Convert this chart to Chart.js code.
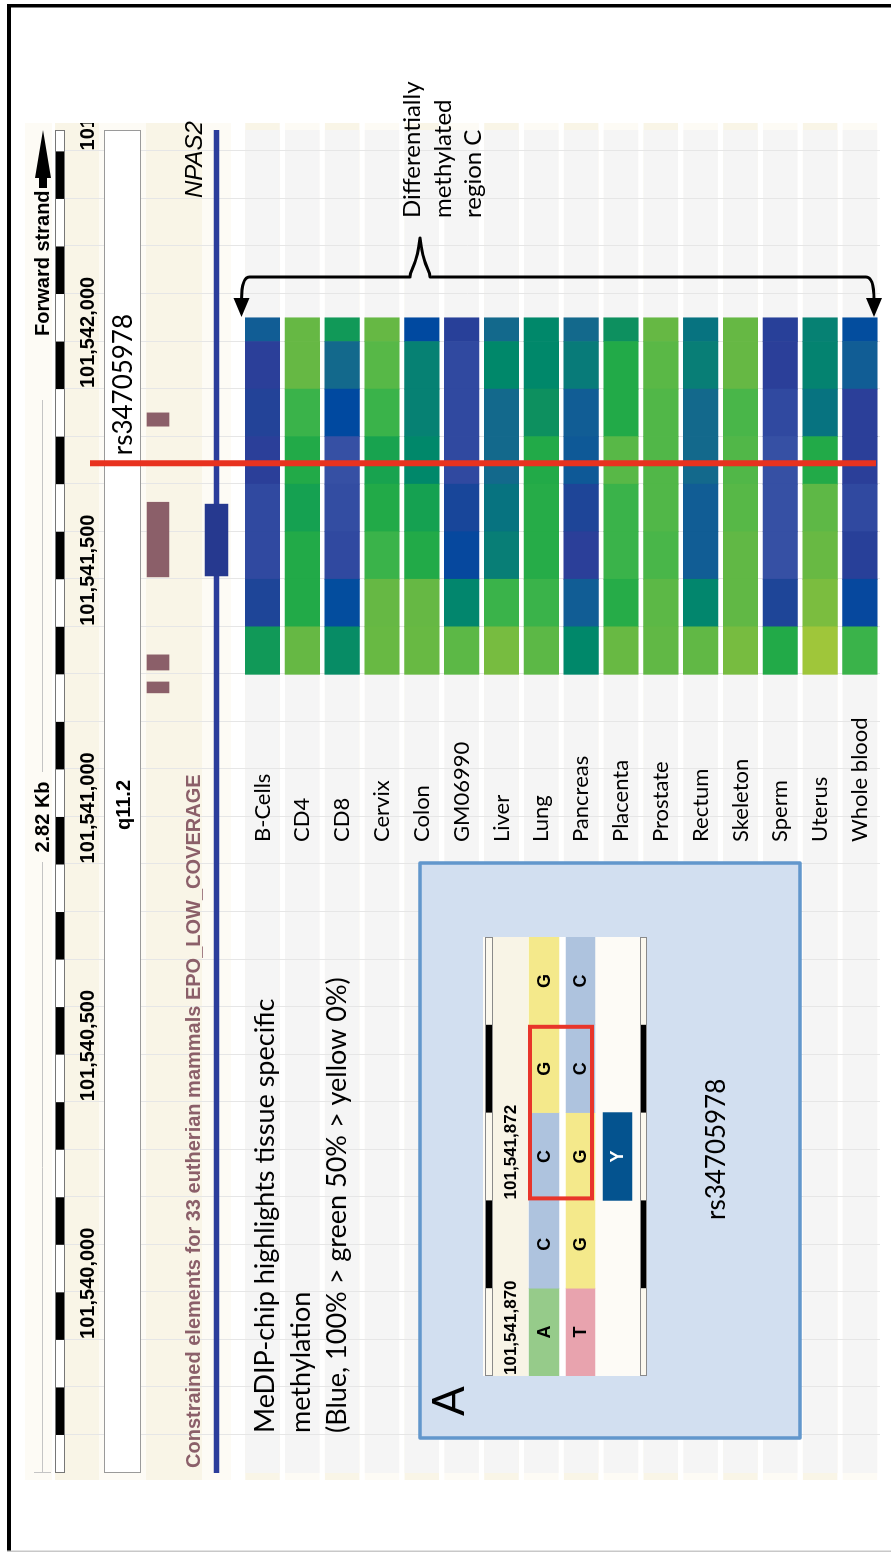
<!DOCTYPE html>
<html>
<head>
<meta charset="utf-8">
<script src="https://cdn.jsdelivr.net/npm/chart.js@4.4.1/dist/chart.umd.min.js"></script>
<style>
  html, body { margin: 0; padding: 0; background: #fff; width: 891px; height: 1552px; overflow: hidden; }
  /* the figure is laid out in landscape and turned a quarter turn counter-clockwise */
  #figure { position: absolute; left: 0; top: 0; width: 1552px; height: 891px;
            transform-origin: 0 0; transform: translateY(1552px) rotate(-90deg); }
  #main  { position: absolute; left: 0; top: 0; }
  #inset { position: absolute; left: 176px; top: 483px; }
</style>
</head>
<body>
<div id="figure">
  <canvas id="main" width="1552" height="891"></canvas>
  <canvas id="inset" width="439" height="164"></canvas>
</div>
<script>
// ---------------- data ----------------
const tissues = ['B-Cells', 'CD4', 'CD8', 'Cervix', 'Colon', 'GM06990', 'Liver', 'Lung',
                 'Pancreas', 'Placenta', 'Prostate', 'Rectum', 'Skeleton', 'Sperm', 'Uterus', 'Whole blood'];

// MeDIP-chip windows on chr2 (bp)
const windowStarts = [101541400, 101541500, 101541600, 101541700, 101541800, 101541900, 101542000, 101542100];
const windowEnds   = [101541500, 101541600, 101541700, 101541800, 101541900, 101542000, 101542100, 101542150];

// methylation level (%) per window, one array per tissue
const methBCells     = [58, 90, 98, 98, 95, 92, 95, 80];
const methCD4        = [28, 52, 52, 56, 52, 46, 28, 28];
const methCD8        = [62, 84, 98, 99, 100, 85, 76, 58];
const methCervix     = [27, 28, 46, 52, 55, 46, 37, 28];
const methColon      = [27, 28, 52, 56, 64, 67, 67, 85];
const methGM06990    = [34, 65, 86, 89, 98, 98, 98, 94];
const methLiver      = [21, 46, 68, 72, 76, 76, 64, 76];
const methLung       = [34, 46, 51, 51, 52, 60, 64, 64];
const methPancreas   = [64, 80, 95, 90, 81, 80, 69, 76];
const methPlacenta   = [27, 51, 46, 46, 36, 52, 52, 60];
const methProstate   = [31, 34, 42, 40, 40, 40, 35, 28];
const methRectum     = [31, 65, 80, 80, 76, 76, 68, 72];
const methSkeleton   = [21, 31, 31, 37, 40, 42, 28, 28];
const methSperm      = [52, 90, 100, 100, 100, 98, 95, 94];
const methUterus     = [11, 20, 27, 33, 52, 72, 66, 67];
const methWholeBlood = [46, 86, 94, 98, 95, 95, 80, 84];
const methylation = [methBCells, methCD4, methCD8, methCervix, methColon, methGM06990, methLiver, methLung,
                     methPancreas, methPlacenta, methProstate, methRectum, methSkeleton, methSperm, methUterus, methWholeBlood];

// constrained elements (33 eutherian mammals)
const constrainedStarts = [101541361, 101541409, 101541605, 101541922];
const constrainedEnds   = [101541384, 101541441, 101541762, 101541950];

// NPAS2: visible stretch of the gene and the exon in view
const npas2Visible = [101539720, 101542545];
const npas2ExonStart = 101541607, npas2ExonEnd = 101541758;

// ruler
const rulerTickValues = [101540000, 101540500, 101541000, 101541500, 101542000, 101542500];
const rulerTickLabels = ['101,540,000', '101,540,500', '101,541,000', '101,541,500', '101,542,000', '101,542,500'];
const viewStart = 101539720, viewEnd = 101542545;
const markerPos = 101541844;     // rs34705978 marker line

// detail view around the SNP
const insetPositions = [101541870, 101541871, 101541872, 101541873, 101541874];
const forwardBases = ['A', 'C', 'C', 'G', 'G'];
const reverseBases = ['T', 'G', 'G', 'C', 'C'];
const insetLabelValues = [101541870, 101541872];
const insetLabels = ['101,541,870', '101,541,872'];
const variantPos = 101541872, variantCode = 'Y';
const cpgStart = 101541872, cpgEnd = 101541873;

// ---------------- styling / layout ----------------
const W = 1552, H = 891;
const ROW0_Y = 262.5, ROW_PITCH = 39.83, ROW_THICK = 34.5;
const PLOT_LEFT = 79, PLOT_RIGHT = 1422;
const PALE = '#fdfbf5', CREAM = '#f9f5e7', GRAY = '#f5f5f5';
const LANE_CONSTRAINED = 158, LANE_GENE = 216.5;
const ENS_BOLD = 'bold 20px "Liberation Sans", Arial, sans-serif';
const lato = s => `${s}px Lato, "Open Sans", sans-serif`;

const methylationStops = [
  [0, '#f1e42b'], [11, '#9fc63a'], [21, '#77bc40'], [28, '#66b844'], [34, '#5cb846'], [40, '#51b748'],
  [46, '#3ab34a'], [52, '#22aa48'], [56, '#15a151'], [60, '#0d905f'], [64, '#00886a'], [68, '#087e76'],
  [72, '#077380'], [76, '#13698c'], [80, '#115d95'], [85, '#0049a0'], [90, '#1e4598'], [95, '#2b3f99'],
  [98, '#3049a0'], [100, '#3650a4']
];
function hexRgb(h) { return [1, 3, 5].map(k => parseInt(h.slice(k, k + 2), 16)); }
function methylationColor(v) {
  for (let k = 1; k < methylationStops.length; k++) {
    const [v1, c1] = methylationStops[k];
    if (v <= v1) {
      const [v0, c0] = methylationStops[k - 1];
      const t = (v - v0) / (v1 - v0), a = hexRgb(c0), b = hexRgb(c1);
      return `rgb(${a.map((q, j) => Math.round(q + (b[j] - q) * t)).join(',')})`;
    }
  }
  return methylationStops[methylationStops.length - 1][1];
}
const BASE_COLORS = { A: '#96cb8a', C: '#aec3de', G: '#f4e98b', T: '#e8a3ae' };

function text(ctx, s, x, y, font, color, align) {
  ctx.save();
  ctx.font = font; ctx.fillStyle = color || '#000';
  ctx.textAlign = align || 'left'; ctx.textBaseline = 'middle';
  ctx.fillText(s, x, y);
  ctx.restore();
}

// ---------------- main view ----------------
const trackBands = [[25, 52, PALE], [55, 99, CREAM], [99, 146, PALE], [146, 202, CREAM], [202, 231, PALE]];

const tracksPlugin = {
  id: 'tracks',
  beforeDraw(chart) {
    const { ctx, scales: { x, y } } = chart;
    ctx.save();
    ctx.fillStyle = '#fff'; ctx.fillRect(0, 0, W, H);
    const bx0 = x.left - 7, bx1 = x.right + 7;
    trackBands.forEach(([a, b, c]) => { ctx.fillStyle = c; ctx.fillRect(bx0, a, bx1 - bx0, b - a); });
    tissues.forEach((t, i) => {
      const yc = y.getPixelForValue(i);
      ctx.fillStyle = i % 2 === 0 ? CREAM : PALE;
      ctx.fillRect(bx0, yc - ROW_THICK / 2, bx1 - bx0, ROW_THICK);
      ctx.fillStyle = GRAY;
      ctx.fillRect(x.left, yc - ROW_THICK / 2, x.right - x.left, ROW_THICK);
    });
    // 100 bp guide lines
    ctx.strokeStyle = '#e6e6e6'; ctx.lineWidth = 1;
    for (let v = Math.ceil(x.min / 100) * 100; v <= x.max; v += 100) {
      const px = Math.round(x.getPixelForValue(v)) + 0.5;
      ctx.beginPath(); ctx.moveTo(px, 55); ctx.lineTo(px, 880); ctx.stroke();
    }
    // chromosome band box
    ctx.fillStyle = '#fff'; ctx.fillRect(x.left, 104, x.right - x.left, 37);
    ctx.strokeStyle = '#9a9a9a'; ctx.strokeRect(x.left + 0.5, 104.5, x.right - x.left - 1, 36);
    // ruler strip: alternating 100 bp blocks
    ctx.fillStyle = '#fff'; ctx.fillRect(x.left, 55.5, x.right - x.left, 9);
    ctx.fillStyle = '#000';
    for (let v = Math.floor(x.min / 100) * 100; v < x.max; v += 100) {
      if ((v / 100) % 2 !== 0) continue;
      const p0 = x.getPixelForValue(Math.max(v, x.min)), p1 = x.getPixelForValue(Math.min(v + 100, x.max));
      ctx.fillRect(p0, 55.5, p1 - p0, 9);
    }
    ctx.strokeStyle = '#777'; ctx.strokeRect(x.left + 0.5, 55.5, x.right - x.left - 1, 9);
    ctx.restore();
  },
  afterDraw(chart) {
    const { ctx, scales: { x, y } } = chart;
    ctx.save();
    // ruler labels
    ctx.save();
    ctx.beginPath(); ctx.rect(0, 0, x.right + 7, H); ctx.clip();
    rulerTickValues.forEach((v, k) => text(ctx, rulerTickLabels[k], x.getPixelForValue(v) + 1, 88, ENS_BOLD, '#000'));
    ctx.restore();

    // strand label and arrow
    text(ctx, 'Forward strand', 1216, 43, ENS_BOLD, '#000');
    ctx.fillStyle = '#000';
    ctx.fillRect(1364, 39, 11, 8);
    ctx.beginPath(); ctx.moveTo(1374, 35); ctx.lineTo(1422, 43); ctx.lineTo(1374, 51); ctx.closePath(); ctx.fill();

    // scale bar
    ctx.strokeStyle = '#c4c4c4'; ctx.lineWidth = 1;
    ctx.beginPath();
    ctx.moveTo(x.left, 42.5); ctx.lineTo(690, 42.5);
    ctx.moveTo(780, 42.5); ctx.lineTo(1152, 42.5);
    ctx.moveTo(x.left + 0.5, 34); ctx.lineTo(x.left + 0.5, 51);
    ctx.stroke();
    text(ctx, '2.82 Kb', 735, 43, ENS_BOLD, '#000', 'center');

    // track labels
    text(ctx, 'q11.2', 747, 124, ENS_BOLD, '#000', 'center');
    text(ctx, 'Constrained elements for 33 eutherian mammals EPO_LOW_COVERAGE', x.left + 5, 194, ENS_BOLD, '#8b5f69');
    text(ctx, 'NPAS2', 1354, 195, 'italic 24px "Liberation Sans", Arial, sans-serif', '#000');

    // SNP marker
    const mx = x.getPixelForValue(markerPos);
    ctx.fillStyle = '#e8321f';
    ctx.fillRect(mx - 3, 90, 6, 786);
    text(ctx, 'rs34705978', mx + 8, 124, lato(26), '#000');

    // tissue names
    tissues.forEach((t, i) => text(ctx, t, 710, y.getPixelForValue(i), lato(22), '#000'));

    // legend text
    text(ctx, 'MeDIP-chip highlights tissue specific', 119, 265, lato(27), '#000');
    text(ctx, 'methylation', 119, 301, lato(27), '#000');
    text(ctx, '(Blue, 100% > green 50% > yellow 0%)', 119, 337, lato(27), '#000');

    // brace over the methylated region
    const yTop = y.getPixelForValue(0) - 21, yBot = y.getPixelForValue(tissues.length - 1) + 14;
    const bx = 1275, spikeX = 1314, spikeY = 420, tip = 1235;
    ctx.strokeStyle = '#000'; ctx.lineWidth = 3; ctx.lineJoin = 'round';
    ctx.beginPath();
    ctx.moveTo(1252, yTop);
    ctx.quadraticCurveTo(bx, yTop, bx, yTop + 8);
    ctx.lineTo(bx, spikeY - 10);
    ctx.bezierCurveTo(bx + 8, spikeY - 10, bx + 10, spikeY - 3, spikeX, spikeY);
    ctx.bezierCurveTo(bx + 10, spikeY + 3, bx + 8, spikeY + 10, bx, spikeY + 10);
    ctx.lineTo(bx, yBot - 8);
    ctx.quadraticCurveTo(bx, yBot, 1252, yBot);
    ctx.stroke();
    ctx.fillStyle = '#000';
    [yTop, yBot].forEach(yy => {
      ctx.beginPath(); ctx.moveTo(1254, yy - 8); ctx.lineTo(tip, yy); ctx.lineTo(1254, yy + 8); ctx.closePath(); ctx.fill();
    });
    text(ctx, 'Differentially', 1334, 412, lato(24), '#000');
    text(ctx, 'methylated', 1334, 443, lato(24), '#000');
    text(ctx, 'region C', 1334, 473, lato(24), '#000');

    // panel A frame
    ctx.fillStyle = '#d2dff0'; ctx.fillRect(114, 420, 575, 380);
    ctx.strokeStyle = '#6297cc'; ctx.lineWidth = 3.5; ctx.strokeRect(114, 420, 575, 380);
    text(ctx, 'A', 136, 450, lato(44), '#000');
    text(ctx, 'rs34705978', 332, 717, lato(26), '#000');

    // outer frame
    ctx.fillStyle = '#000';
    ctx.fillRect(0, 7, 1548, 4);
    ctx.fillRect(1544.5, 7, 3.5, H - 7);
    ctx.fillStyle = '#c8c8c8';
    ctx.fillRect(0, 7, 1.5, H - 7);
    ctx.restore();
  }
};

function buildMain() {
  const heatDatasets = windowStarts.map((s, w) => ({
    label: `${s}-${windowEnds[w]}`,
    data: tissues.map((t, i) => ({ x: [s, windowEnds[w]], y: i })),
    backgroundColor: tissues.map((t, i) => methylationColor(methylation[i][w])),
    yAxisID: 'y', barThickness: ROW_THICK, order: 5
  }));
  const trackDatasets = [
    { label: 'NPAS2 exon', data: [{ x: [npas2ExonStart, npas2ExonEnd], y: LANE_GENE }],
      backgroundColor: '#26398f', yAxisID: 'yPx', barThickness: 23, order: 1 },
    { label: 'NPAS2', data: [{ x: npas2Visible, y: LANE_GENE }],
      backgroundColor: '#2b3d9b', yAxisID: 'yPx', barThickness: 5, order: 2 },
    { label: 'Constrained elements', data: constrainedStarts.map((s, k) => ({ x: [s, constrainedEnds[k]], y: LANE_CONSTRAINED })),
      backgroundColor: '#8b5f69', yAxisID: 'yPx', barThickness: 22, order: 3 }
  ];
  new Chart(document.getElementById('main'), {
    type: 'bar',
    data: { datasets: [...trackDatasets, ...heatDatasets] },
    options: {
      indexAxis: 'y', responsive: false, animation: false, devicePixelRatio: 1, events: [],
      layout: { padding: { left: PLOT_LEFT, right: W - PLOT_RIGHT, top: 0, bottom: 0 } },
      datasets: { bar: { grouped: false, borderWidth: 0, borderSkipped: false } },
      scales: {
        x: { type: 'linear', min: viewStart, max: viewEnd, offset: false, display: false },
        y: { type: 'linear', reverse: true, offset: false, min: -ROW0_Y / ROW_PITCH, max: (H - ROW0_Y) / ROW_PITCH, display: false },
        yPx: { type: 'linear', reverse: true, offset: false, min: 0, max: H, display: false }
      },
      plugins: { legend: { display: false }, tooltip: { enabled: false } }
    },
    plugins: [tracksPlugin]
  });
}

// ---------------- detail view (panel A) ----------------
const INSET_H = 164;
const insetRows = { label: 27.5, forward: 61, reverse: 97.5, variant: 134.5 };

const insetPlugin = {
  id: 'insetDecor',
  beforeDraw(chart) {
    const { ctx, scales: { x } } = chart;
    const w = chart.width;
    ctx.save();
    ctx.fillStyle = '#fdfbf6'; ctx.fillRect(0, 0, w, INSET_H);
    ctx.fillStyle = '#f8f4e6'; ctx.fillRect(0, 10, w, 35);
    ctx.fillStyle = '#fff'; ctx.fillRect(0, 76, w, 7);
    [[2, 10], [157, 164]].forEach(([a, b]) => {
      ctx.fillStyle = '#fbf8ee'; ctx.fillRect(0, a, w, b - a);
      insetPositions.forEach(p => {
        if (p % 2 === 0) return;
        ctx.fillStyle = '#000';
        const p0 = x.getPixelForValue(p - 0.5), p1 = x.getPixelForValue(p + 0.5);
        ctx.fillRect(p0, a, p1 - p0, b - a);
      });
      ctx.strokeStyle = '#8a8a8a'; ctx.lineWidth = 1;
      ctx.strokeRect(0.5, a + 0.5, w - 1, b - a - 1);
    });
    ctx.restore();
  },
  afterDraw(chart) {
    const { ctx, scales: { x } } = chart;
    const f = 'bold 18px "Liberation Sans", Arial, sans-serif';
    insetPositions.forEach((p, k) => {
      const cx = x.getPixelForValue(p);
      text(ctx, forwardBases[k], cx, insetRows.forward + 1, f, '#000', 'center');
      text(ctx, reverseBases[k], cx, insetRows.reverse + 1, f, '#000', 'center');
    });
    text(ctx, variantCode, x.getPixelForValue(variantPos), insetRows.variant + 1, f, '#fff', 'center');
    insetLabelValues.forEach((v, k) =>
      text(ctx, insetLabels[k], x.getPixelForValue(v - 0.5) + 1, insetRows.label + 1, 'bold 17px "Liberation Sans", Arial, sans-serif', '#000'));
    const r0 = x.getPixelForValue(cpgStart - 0.5), r1 = x.getPixelForValue(cpgEnd + 0.5);
    ctx.save();
    ctx.strokeStyle = '#e8352a'; ctx.lineWidth = 4;
    ctx.strokeRect(r0 + 2, 47, r1 - r0 - 4, 62);
    ctx.restore();
  }
};

function buildInset() {
  new Chart(document.getElementById('inset'), {
    type: 'bar',
    data: { datasets: [
      { label: 'forward', data: insetPositions.map(p => ({ x: [p - 0.5, p + 0.5], y: insetRows.forward })),
        backgroundColor: forwardBases.map(b => BASE_COLORS[b]), barThickness: 30 },
      { label: 'reverse', data: insetPositions.map(p => ({ x: [p - 0.5, p + 0.5], y: insetRows.reverse })),
        backgroundColor: reverseBases.map(b => BASE_COLORS[b]), barThickness: 29 },
      { label: 'variant', data: [{ x: [variantPos - 0.5, variantPos + 0.5], y: insetRows.variant }],
        backgroundColor: '#04538f', barThickness: 29 }
    ] },
    options: {
      indexAxis: 'y', responsive: false, animation: false, devicePixelRatio: 1, events: [],
      layout: { padding: 0 },
      datasets: { bar: { grouped: false, borderWidth: 0, borderSkipped: false } },
      scales: {
        x: { type: 'linear', offset: false, min: insetPositions[0] - 0.5, max: insetPositions[insetPositions.length - 1] + 0.5, display: false },
        y: { type: 'linear', reverse: true, offset: false, min: 0, max: INSET_H, display: false }
      },
      plugins: { legend: { display: false }, tooltip: { enabled: false } }
    },
    plugins: [insetPlugin]
  });
}

function build() { buildMain(); buildInset(); }
const fontsReady = document.fonts && document.fonts.load
  ? Promise.all([ENS_BOLD, 'italic 24px "Liberation Sans"', lato(22), 'bold 18px "Liberation Sans"'].map(f => document.fonts.load(f)))
  : Promise.resolve();
fontsReady.then(build, build);
</script>
</body>
</html>
